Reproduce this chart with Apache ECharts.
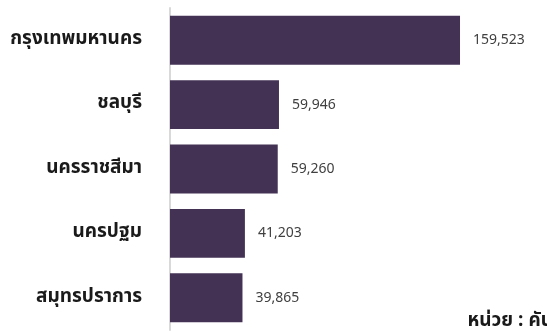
<!DOCTYPE html>
<html><head><meta charset="utf-8">
<script src="https://cdn.jsdelivr.net/npm/echarts@6/dist/echarts.min.js"></script>
<style>html,body{margin:0;padding:0;background:#fff}#c{width:547px;height:331px}</style>
</head><body><div id="c"></div>
<script>
var categories = ['กรุงเทพมหานคร','ชลบุรี','นครราชสีมา','นครปฐม','สมุทรปราการ'];
var values = [159523, 59946, 59260, 41203, 39865];
var unitLabel = 'หน่วย : คัน';
var chart = echarts.init(document.getElementById('c'));
chart.setOption({
  animation:false,
  grid:{left:170,top:8,bottom:1,width:363.6,containLabel:false},
  xAxis:{type:'value',min:0,max:200000,show:false},
  yAxis:{type:'category',inverse:true,data:categories,
    axisLine:{show:true,lineStyle:{color:'#d9d9d9',width:2}},
    axisTick:{show:false},
    axisLabel:{margin:28,color:'#1a1a1a',fontSize:19,fontWeight:'bold',fontFamily:'Tahoma, "Noto Sans Thai", sans-serif'}},
  series:[{type:'bar',data:values,barCategoryGap:'24%',
    itemStyle:{color:'#433254'},
    label:{show:true,position:'right',distance:13,color:'#404040',fontSize:14,
      fontFamily:'"Noto Sans", sans-serif',
      formatter:function(p){return p.value.toLocaleString('en-US');}}}],
  graphic:[{type:'text',right:-6,bottom:-1,style:{text:unitLabel,fill:'#1a1a1a',fontSize:19,fontWeight:'bold',
    fontFamily:'Tahoma, "Noto Sans Thai", sans-serif'}}]
});
</script></body></html>
